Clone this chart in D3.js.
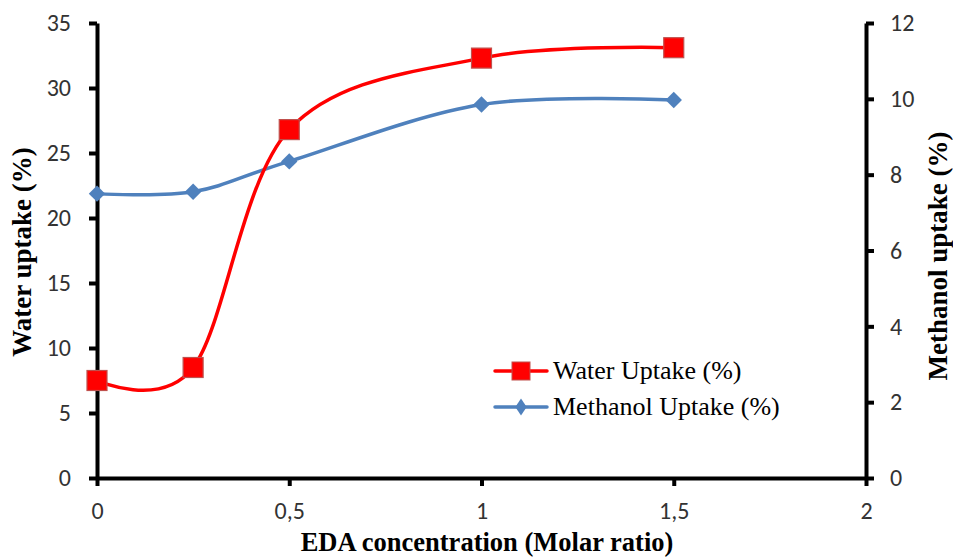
<!DOCTYPE html>
<html>
<head>
<meta charset="utf-8">
<script src="https://cdn.jsdelivr.net/npm/d3@7"></script>
<style>
  html, body { margin: 0; padding: 0; background: #fff; }
  svg { display: block; }
</style>
</head>
<body>
<svg id="chart" width="953" height="560"></svg>
<script>
// EDA concentration (molar ratio) and measured uptakes
const edaRatio = [0, 0.25, 0.5, 1, 1.5];
const waterUptake = [7.5, 8.5, 26.8, 32.3, 33.1];
const methanolUptake = [7.5, 7.55, 8.35, 9.85, 9.97];

const xTicks = [0, 0.5, 1, 1.5, 2];
const leftTicks = [0, 5, 10, 15, 20, 25, 30, 35];
const rightTicks = [0, 2, 4, 6, 8, 10, 12];

const seriesNames = ["Water Uptake (%)", "Methanol Uptake (%)"];
const seriesColors = ["#FF0000", "#4F81BD"];

const svg = d3.select("#chart");
const plotLeft = 97, plotRight = 866, plotTop = 23, plotBottom = 478;

const x = d3.scaleLinear().domain([0, 2]).range([plotLeft, plotRight]);
const yL = d3.scaleLinear().domain([0, 35]).range([plotBottom, plotTop]);
const yR = d3.scaleLinear().domain([0, 12]).range([plotBottom, plotTop]);

const tickFont = "Carlito, Calibri, Lato, 'Open Sans', sans-serif";
const serif = "'Liberation Serif', 'Times New Roman', serif";
const fmt = d => String(d).replace(".", ",");

function styleAxis(g) {
  g.select(".domain").style("stroke", "#000").style("stroke-width", "4px");
  g.selectAll(".tick line").style("stroke", "#000").style("stroke-width", "4px");
  g.selectAll(".tick text")
    .attr("fill", "#333")
    .style("font-family", tickFont)
    .style("font-size", "24px");
}

// Bottom axis
svg.append("g")
  .attr("transform", `translate(0,${plotBottom})`)
  .call(d3.axisBottom(x).tickValues(xTicks).tickFormat(fmt).tickSize(8).tickSizeOuter(0).tickPadding(16))
  .call(styleAxis);

// Left axis (water)
svg.append("g")
  .attr("transform", `translate(${plotLeft},0)`)
  .call(d3.axisLeft(yL).tickValues(leftTicks).tickSize(8).tickSizeOuter(0).tickPadding(18))
  .call(styleAxis);

// Right axis (methanol)
svg.append("g")
  .attr("transform", `translate(${plotRight},0)`)
  .call(d3.axisRight(yR).tickValues(rightTicks).tickSize(8).tickSizeOuter(0).tickPadding(16))
  .call(styleAxis);

// Axis titles
svg.append("text")
  .attr("transform", "translate(31,252) rotate(-90)")
  .attr("text-anchor", "middle")
  .style("font-family", serif).style("font-weight", "bold").style("font-size", "27px")
  .text("Water uptake (%)");

svg.append("text")
  .attr("transform", "translate(947,256) rotate(-90)")
  .attr("text-anchor", "middle")
  .style("font-family", serif).style("font-weight", "bold").style("font-size", "27px")
  .text("Methanol uptake (%)");

svg.append("text")
  .attr("x", 487).attr("y", 551)
  .attr("text-anchor", "middle")
  .style("font-family", serif).style("font-weight", "bold").style("font-size", "26.5px")
  .text("EDA concentration (Molar ratio)");

// Smoothed series lines
const curve = d3.curveCardinal.tension(0);
const waterData = edaRatio.map((d, i) => [d, waterUptake[i]]);
const methData = edaRatio.map((d, i) => [d, methanolUptake[i]]);

svg.append("path")
  .datum(methData)
  .attr("fill", "none").attr("stroke", seriesColors[1]).attr("stroke-width", 3.5)
  .attr("d", d3.line().x(d => x(d[0])).y(d => yR(d[1])).curve(curve));

svg.append("path")
  .datum(waterData)
  .attr("fill", "none").attr("stroke", seriesColors[0]).attr("stroke-width", 3.5)
  .attr("d", d3.line().x(d => x(d[0])).y(d => yL(d[1])).curve(curve));

// Markers: diamonds for methanol, squares for water
svg.selectAll(".meth-marker")
  .data(methData).enter().append("path")
  .attr("class", "meth-marker")
  .attr("transform", d => `translate(${x(d[0])},${yR(d[1])}) rotate(45)`)
  .attr("d", d3.symbol().type(d3.symbolSquare).size(135)())
  .attr("fill", seriesColors[1]);

svg.selectAll(".water-marker")
  .data(waterData).enter().append("rect")
  .attr("class", "water-marker")
  .attr("x", d => x(d[0]) - 10).attr("y", d => yL(d[1]) - 10)
  .attr("width", 20).attr("height", 20)
  .attr("fill", "#FF0000").attr("stroke", "#C0504D").attr("stroke-width", 1.2);

// Legend
const legend = svg.append("g");
const legendRows = [
  { name: seriesNames[0], color: seriesColors[0], y: 371, marker: "square" },
  { name: seriesNames[1], color: seriesColors[1], y: 407, marker: "diamond" }
];
legendRows.forEach(r => {
  legend.append("line")
    .attr("x1", 495).attr("x2", 547).attr("y1", r.y).attr("y2", r.y)
    .attr("stroke", r.color).attr("stroke-width", 3.5).attr("stroke-linecap", "round");
  if (r.marker === "square") {
    legend.append("rect")
      .attr("x", 512).attr("y", r.y - 9).attr("width", 18).attr("height", 18)
      .attr("fill", r.color).attr("stroke", "#C0504D").attr("stroke-width", 1);
  } else {
    legend.append("path")
      .attr("transform", `translate(521,${r.y}) scale(0.8,1.2) rotate(45)`)
      .attr("d", d3.symbol().type(d3.symbolSquare).size(100)())
      .attr("fill", r.color);
  }
  legend.append("text")
    .attr("x", 553).attr("y", r.y + 8)
    .style("font-family", serif).style("font-size", "26px").attr("fill", "#000")
    .text(r.name);
});
</script>
</body>
</html>
